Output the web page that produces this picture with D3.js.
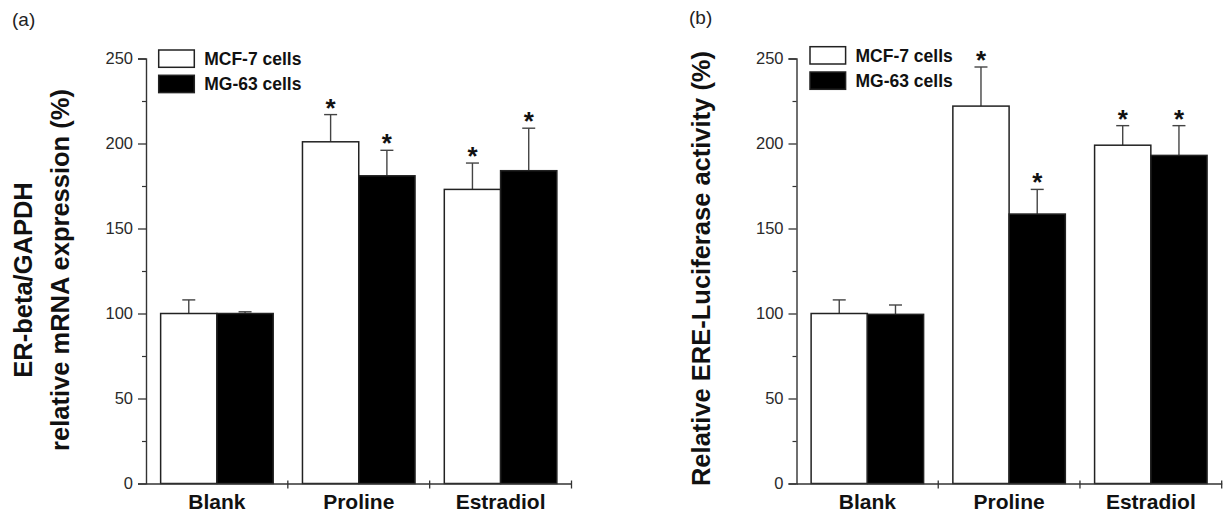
<!DOCTYPE html>
<html>
<head>
<meta charset="utf-8">
<script src="https://cdn.jsdelivr.net/npm/d3@7"></script>
<style>
  html, body { margin: 0; padding: 0; background: #fff; }
  svg { display: block; font-family: "Liberation Sans", Arial, sans-serif; }
</style>
</head>
<body>
<svg id="chart" width="1223" height="515"></svg>
<script>
// ---------- data ----------
const categories = ["Blank", "Proline", "Estradiol"];
const seriesNames = ["MCF-7 cells", "MG-63 cells"];
const yTicks = [0, 50, 100, 150, 200, 250];
const yMinorTicks = [25, 75, 125, 175, 225];

// panel (a): ER-beta/GAPDH relative mRNA expression (%)
const aMCF = [100, 201, 173];
const aMCFerr = [8, 16, 15.5];
const aMG = [100, 181, 184];
const aMGerr = [1, 15, 25];
const aMCFsig = [false, true, true];
const aMGsig = [false, true, true];

// panel (b): Relative ERE-Luciferase activity (%)
const bMCF = [100, 222, 199];
const bMCFerr = [8, 23, 11.5];
const bMG = [99.5, 158.5, 193];
const bMGerr = [5.5, 14.5, 17.5];
const bMCFsig = [false, true, true];
const bMGsig = [false, true, true];

const seriesFill = ["#ffffff", "#000000"];

// ---------- drawing ----------
const svg = d3.select("#chart");
const y = d3.scaleLinear().domain([0, 250]).range([483.5, 58.5]);

function panel(opts) {
  const g = svg.append("g");
  const x = d3.scaleBand().domain(categories).range([opts.x0, opts.x1]).padding(0);
  const xs = d3.scaleBand().domain(seriesNames).range([0, x.bandwidth()])
    .paddingInner(0).paddingOuter(0.26);

  const series = [
    { name: seriesNames[0], vals: opts.s1, err: opts.e1, sig: opts.g1, fill: seriesFill[0] },
    { name: seriesNames[1], vals: opts.s2, err: opts.e2, sig: opts.g2, fill: seriesFill[1] }
  ];

  // error bars (upper only)
  series.forEach(s => {
    const eg = g.append("g");
    categories.forEach((c, i) => {
      const cx = x(c) + xs(s.name) + xs.bandwidth() / 2;
      const top = y(s.vals[i] + s.err[i]);
      eg.append("line").attr("x1", cx).attr("x2", cx)
        .attr("y1", y(s.vals[i])).attr("y2", top)
        .attr("stroke", "#444").attr("stroke-width", 1.4);
      eg.append("line").attr("x1", cx - 6.5).attr("x2", cx + 6.5)
        .attr("y1", top).attr("y2", top)
        .attr("stroke", "#444").attr("stroke-width", 1.4);
      if (s.sig[i]) {
        eg.append("text").attr("x", cx).attr("y", top + 2)
          .attr("text-anchor", "middle")
          .attr("font-size", 26).attr("font-weight", "bold").attr("fill", "#111")
          .text("*");
      }
    });
  });

  // bars
  series.forEach(s => {
    g.append("g").selectAll("rect").data(categories).join("rect")
      .attr("x", c => x(c) + xs(s.name))
      .attr("width", xs.bandwidth())
      .attr("y", (c, i) => y(s.vals[i]))
      .attr("height", (c, i) => y(0) - y(s.vals[i]))
      .attr("fill", s.fill)
      .attr("stroke", "#222").attr("stroke-width", 1.5);
  });

  // y axis
  const yAxis = g.append("g").attr("transform", `translate(${opts.x0},0)`)
    .call(d3.axisLeft(y).tickValues(yTicks).tickSize(8).tickPadding(5).tickFormat(d3.format("d")));
  yAxis.select(".domain").attr("stroke", "#333").attr("stroke-width", 1.4);
  yAxis.selectAll(".tick line").attr("stroke", "#333").attr("stroke-width", 1.3);
  yAxis.selectAll(".tick text").attr("font-size", 16.5).attr("fill", "#2a2a2a")
    .attr("font-family", "Liberation Sans, Arial, sans-serif");
  const yMinor = g.append("g").attr("transform", `translate(${opts.x0},0)`)
    .call(d3.axisLeft(y).tickValues(yMinorTicks).tickSize(4).tickFormat(""));
  yMinor.select(".domain").remove();
  yMinor.selectAll(".tick line").attr("stroke", "#333").attr("stroke-width", 1.2);

  // x axis
  const xAxis = g.append("g").attr("transform", `translate(0,${y(0)})`)
    .call(d3.axisBottom(x).tickSize(0).tickPadding(10));
  xAxis.select(".domain").attr("stroke", "#333").attr("stroke-width", 1.4);
  xAxis.selectAll(".tick text").attr("font-size", 21).attr("font-weight", "bold")
    .attr("fill", "#111").attr("font-family", "Liberation Sans, Arial, sans-serif")
    .attr("dy", "0.72em");
  const bounds = categories.map(c => x(c)).concat([x.range()[1]]);
  xAxis.selectAll(".bnd").data(bounds.slice(1)).join("line").attr("class", "bnd")
    .attr("x1", d => d).attr("x2", d => d).attr("y1", -3).attr("y2", 5)
    .attr("stroke", "#333").attr("stroke-width", 1.3);

  // legend
  const lg = g.append("g");
  series.forEach((s, i) => {
    const ly = opts.legY + i * 25.3;
    lg.append("rect").attr("x", opts.legX).attr("y", ly)
      .attr("width", 35.6).attr("height", 17.3)
      .attr("fill", s.fill).attr("stroke", "#222").attr("stroke-width", 1.5);
    lg.append("text").attr("x", opts.legX + 45.5).attr("y", ly + 8.65)
      .attr("dy", "0.36em")
      .attr("font-size", 17.5).attr("font-weight", "bold").attr("fill", "#111")
      .text(s.name);
  });

  // panel label
  g.append("text").attr("x", opts.labX).attr("y", opts.labY)
    .attr("font-size", 19).attr("fill", "#222").text(opts.label);

  // y title
  opts.titles.forEach(t => {
    g.append("text")
      .attr("transform", `translate(${t.x},${t.cy}) rotate(-90)`)
      .attr("text-anchor", "middle")
      .attr("font-size", 25.5).attr("font-weight", "bold").attr("fill", "#111")
      .text(t.text);
  });
}

panel({
  x0: 146, x1: 571.5,
  s1: aMCF, e1: aMCFerr, g1: aMCFsig,
  s2: aMG, e2: aMGerr, g2: aMGsig,
  legX: 158.7, legY: 50,
  label: "(a)", labX: 12, labY: 26,
  titles: [
    { text: "ER-beta/GAPDH", x: 31.5, cy: 280 },
    { text: "relative mRNA expression (%)", x: 69, cy: 270 }
  ]
});

panel({
  x0: 796.5, x1: 1221.7,
  s1: bMCF, e1: bMCFerr, g1: bMCFsig,
  s2: bMG, e2: bMGerr, g2: bMGsig,
  legX: 810, legY: 46.7,
  label: "(b)", labX: 689, labY: 24,
  titles: [
    { text: "Relative ERE-Luciferase activity (%)", x: 710, cy: 268.5 }
  ]
});
</script>
</body>
</html>
